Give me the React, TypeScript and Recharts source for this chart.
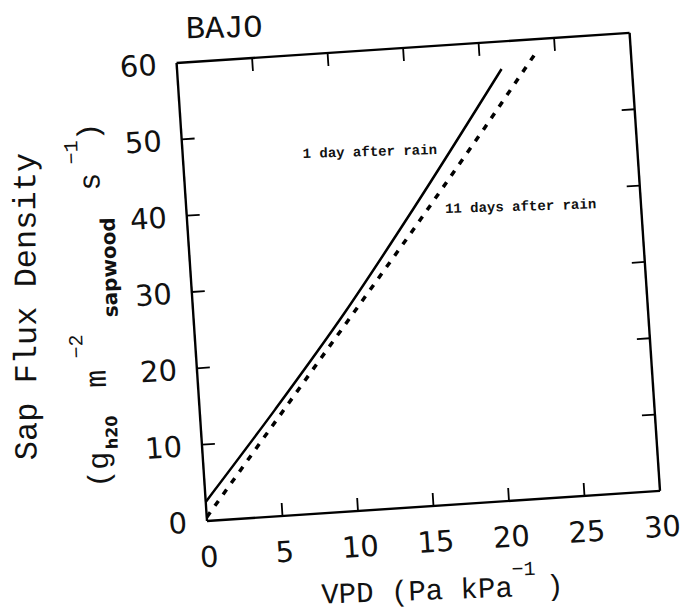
import React from "react";
import { LineChart, Line, XAxis, YAxis, Label, ReferenceDot } from "recharts";

// axis ticks
const vpdTicks = [0, 5, 10, 15, 20, 25, 30];
const fluxTicks = [0, 10, 20, 30, 40, 50, 60];
const innerVpdTicks = [5, 10, 15, 20, 25];
const innerFluxTicks = [10, 20, 30, 40, 50];

// 1 day after rain
const oneDayVpd = [0, 5, 10, 15, 21.4];
const oneDayFlux = [2.5, 14, 26, 39, 56.4];

// 11 days after rain
const elevenDayVpd = [0, 5, 10, 15, 20, 23.8];
const elevenDayFlux = [0.5, 12.5, 24.5, 36.5, 48.8, 58.4];

const oneDay = oneDayVpd.map((vpd, i) => ({ vpd, flux: oneDayFlux[i] }));
const elevenDays = elevenDayVpd.map((vpd, i) => ({ vpd, flux: elevenDayFlux[i] }));

const W = 694;
const H = 629;
// each axis takes 1px, so the plot box starts at (210, 60) and ends at (664, 519)
const AXIS = 1;
const M = { top: 59, right: 29, bottom: 109, left: 209 };
const TILT = -3.8;
const TICK = 13;

const TYPE = "'Liberation Mono', 'DejaVu Sans Mono', monospace";
const DIGITS = "'DejaVu Sans', sans-serif";
const BOLD_SANS = "'DejaVu Sans', sans-serif";
const INK = "#111";

function BottomTick({ x, y, payload }: any) {
  const v = payload.value;
  return (
    <g>
      {innerVpdTicks.includes(v) && (
        <line x1={x} y1={y} x2={x} y2={y - TICK} stroke="#000" strokeWidth={1.8} />
      )}
      <text x={x} y={y + 46} textAnchor="middle" fontFamily={DIGITS} fontSize={29} fill={INK}>
        {v}
      </text>
    </g>
  );
}

function LeftTick({ x, y, payload }: any) {
  const v = payload.value;
  return (
    <g>
      {innerFluxTicks.includes(v) && (
        <line x1={x} y1={y} x2={x + TICK} y2={y} stroke="#000" strokeWidth={1.8} />
      )}
      <text x={x - 20} y={y + 10.5} textAnchor="end" fontFamily={DIGITS} fontSize={29} fill={INK}>
        {v}
      </text>
    </g>
  );
}

function TopTick({ x, y }: any) {
  return <line x1={x} y1={y} x2={x} y2={y + TICK} stroke="#000" strokeWidth={1.8} />;
}

function RightTick({ x, y }: any) {
  return <line x1={x} y1={y} x2={x - TICK} y2={y} stroke="#000" strokeWidth={1.8} />;
}

function PlotTitle({ viewBox }: any) {
  const { x, y, height } = viewBox;
  return (
    <text
      transform={`translate(${x + 11},${y + height - 24}) rotate(2.5)`}
      fontFamily={TYPE}
      fontSize={32}
      fill={INK}
    >
      BAJO
    </text>
  );
}

function VpdTitle({ viewBox }: any) {
  const { x, y } = viewBox;
  return (
    <text
      transform={`translate(${x + 109},${y + 90}) rotate(1.7)`}
      fontFamily={TYPE}
      fontSize={29}
      fill={INK}
    >
      <tspan x={0} y={0}>VPD (Pa kPa</tspan>
      <tspan x={191} y={-21} fontSize={20}>−1</tspan>
      <tspan x={225} y={0}>)</tspan>
    </text>
  );
}

function FluxTitle({ viewBox }: any) {
  const { x, y, width, height } = viewBox;
  const left = x + width;
  const bottom = y + height;
  return (
    <g fontFamily={TYPE} fill={INK}>
      <text transform={`translate(${left - 166},${bottom - 72}) rotate(-86.5)`} fontSize={32}>
        Sap Flux Density
      </text>
      <text transform={`translate(${left - 95.5},${bottom - 40}) rotate(-88)`} fontSize={30}>
        <tspan x={0} y={0}>(g</tspan>
        <tspan x={38} y={10} fontSize={16} fontFamily={BOLD_SANS} fontWeight="bold">h20</tspan>
        <tspan x={100} y={0}>m</tspan>
        <tspan x={130} y={-22} fontSize={20}>−2</tspan>
        <tspan x={170} y={14} fontSize={20} fontFamily={BOLD_SANS} fontWeight="bold">sapwood</tspan>
        <tspan x={297} y={0}>s</tspan>
        <tspan x={324} y={-21} fontSize={20}>−1</tspan>
        <tspan x={347} y={0}>)</tspan>
      </text>
    </g>
  );
}

function Note(text: string) {
  return (p: any) => (
    <text
      x={p.cx}
      y={p.cy}
      transform={`rotate(2, ${p.cx}, ${p.cy})`}
      fontFamily={TYPE}
      fontWeight="bold"
      fontSize={14}
      fill={INK}
    >
      {text}
    </text>
  );
}

export default function App() {
  const frame = { stroke: "#000", strokeWidth: 2.4 };
  return (
    <div style={{ position: "fixed", inset: 0, overflow: "hidden", background: "#fff" }}>
      <div
        style={{
          position: "absolute",
          left: -3,
          top: 2,
          width: W,
          height: H,
          transform: `rotate(${TILT}deg)`,
          transformOrigin: `${M.left + AXIS}px ${H - M.bottom - AXIS}px`,
        }}
      >
        <LineChart width={W} height={H} margin={M}>
          <XAxis
            xAxisId="bottom"
            type="number"
            dataKey="vpd"
            domain={[0, 30]}
            ticks={vpdTicks}
            interval={0}
            height={AXIS}
            tickSize={0}
            tickMargin={0}
            tickLine={false}
            axisLine={frame}
            tick={BottomTick}
            allowDataOverflow
          >
            <Label content={VpdTitle} />
          </XAxis>
          <XAxis
            xAxisId="top"
            orientation="top"
            type="number"
            dataKey="vpd"
            domain={[0, 30]}
            ticks={innerVpdTicks}
            interval={0}
            height={AXIS}
            tickSize={0}
            tickMargin={0}
            tickLine={false}
            axisLine={frame}
            tick={TopTick}
            allowDataOverflow
          >
            <Label content={PlotTitle} />
          </XAxis>
          <YAxis
            yAxisId="left"
            type="number"
            domain={[0, 60]}
            ticks={fluxTicks}
            interval={0}
            width={AXIS}
            tickSize={0}
            tickMargin={0}
            tickLine={false}
            axisLine={frame}
            tick={LeftTick}
            allowDataOverflow
          >
            <Label content={FluxTitle} />
          </YAxis>
          <YAxis
            yAxisId="right"
            orientation="right"
            type="number"
            domain={[0, 60]}
            ticks={innerFluxTicks}
            interval={0}
            width={AXIS}
            tickSize={0}
            tickMargin={0}
            tickLine={false}
            axisLine={frame}
            tick={RightTick}
            allowDataOverflow
          />
          <Line
            data={oneDay}
            dataKey="flux"
            xAxisId="bottom"
            yAxisId="left"
            type="monotone"
            stroke="#000"
            strokeWidth={2.5}
            dot={false}
            activeDot={false}
            isAnimationActive={false}
          />
          <Line
            data={elevenDays}
            dataKey="flux"
            xAxisId="bottom"
            yAxisId="left"
            type="linear"
            stroke="#000"
            strokeWidth={3.5}
            strokeDasharray="6 8"
            dot={false}
            activeDot={false}
            isAnimationActive={false}
          />
          <ReferenceDot
            xAxisId="bottom"
            yAxisId="left"
            x={7.9}
            y={46.5}
            r={0}
            ifOverflow="visible"
            shape={Note("1 day after rain")}
          />
          <ReferenceDot
            xAxisId="bottom"
            yAxisId="left"
            x={17.05}
            y={38.1}
            r={0}
            ifOverflow="visible"
            shape={Note("11 days after rain")}
          />
        </LineChart>
      </div>
    </div>
  );
}
